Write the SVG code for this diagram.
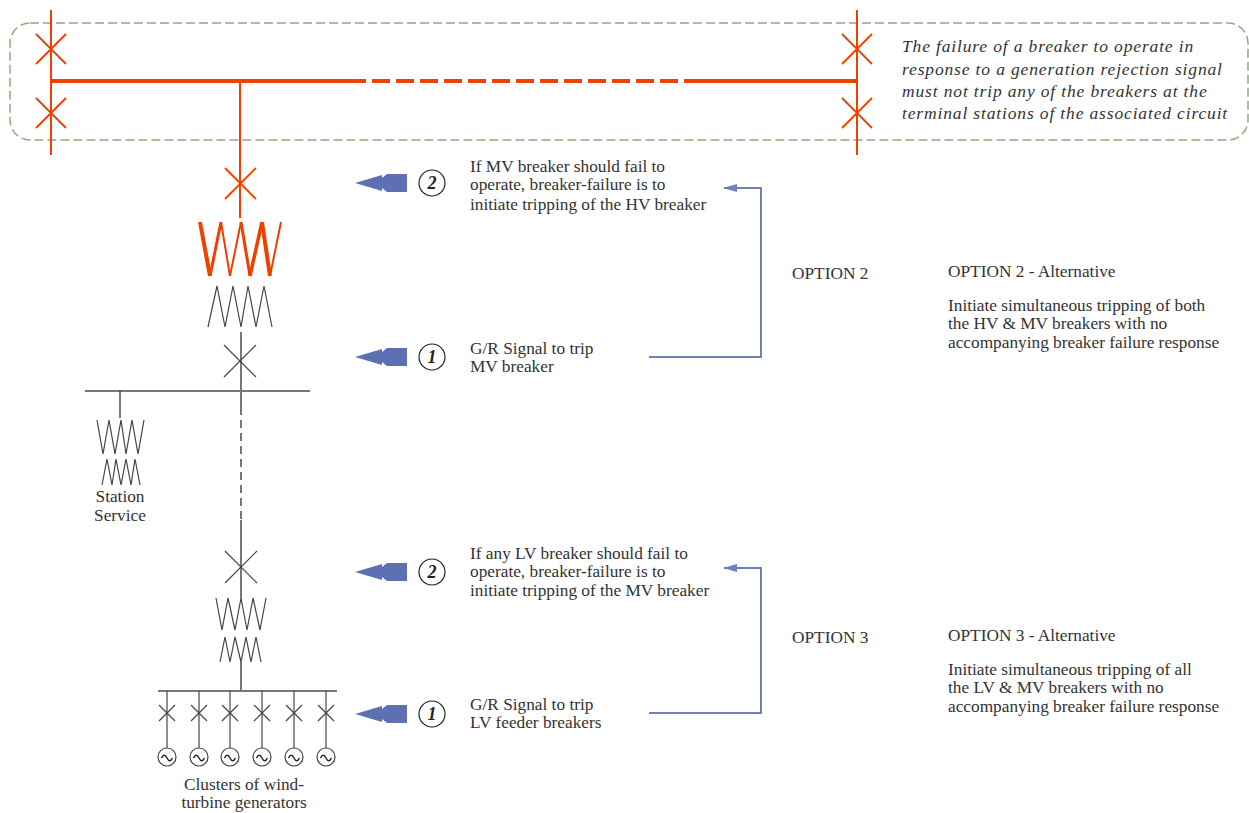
<svg xmlns="http://www.w3.org/2000/svg" width="1249" height="813" viewBox="0 0 1249 813">
<style>
.red{stroke:#ee4000;fill:none}
.blk{stroke:#444;fill:none;stroke-width:1.2}
.gry{stroke:#777;fill:none;stroke-width:2}
.t{font-family:'Liberation Serif','Times New Roman','DejaVu Serif',serif;font-size:17.3px;fill:#333}
.ti{font-family:'Liberation Serif','Times New Roman','DejaVu Serif',serif;font-size:17.5px;font-style:italic;fill:#333;letter-spacing:0.85px}
.num{font-family:'Liberation Serif','Times New Roman','DejaVu Serif',serif;font-size:18px;font-style:italic;font-weight:bold;fill:#222;text-anchor:middle}
.blue{stroke:#6f7fc0;stroke-width:2;fill:none}
</style>
<defs>
<path id="dbl" d="M0,0 L27,-8 L27,-5 L32,-9 L52,-9 L52,9 L32,9 L27,5 L27,8 Z" fill="#5f6fb3"/>
<marker id="ah" markerWidth="14" markerHeight="8" refX="13" refY="4" orient="auto" markerUnits="userSpaceOnUse">
<path d="M14,4 L0,0 L0,8 Z" fill="#6f7fc0"/>
</marker>
<g id="gen">
<line x1="0" y1="-22" x2="0" y2="35" stroke="#444" stroke-width="1.2"/>
<path d="M-8,-8 L8,8 M8,-8 L-8,8" stroke="#444" stroke-width="1.2"/>
<circle cx="0" cy="44" r="9" fill="#fff" stroke="#444" stroke-width="1.2"/>
<path d="M-5.5,45 q2.75,-5.5 5.5,0 t5.5,0" stroke="#222" stroke-width="1.5" fill="none"/>
</g>
</defs>

<g id="note-box">
<rect x="10" y="23" width="1238" height="117" rx="20" fill="none" stroke="#8faa7f" stroke-width="1.5" stroke-dasharray="9,4"/>
<text class="ti" x="902" y="52">The failure of a breaker to operate in</text>
<text class="ti" x="902" y="75">response to a generation rejection signal</text>
<text class="ti" x="902" y="97">must not trip any of the breakers at the</text>
<text class="ti" x="902" y="119">terminal stations of the associated circuit</text>
</g>

<g id="hv-network">
<line class="red" x1="51" y1="10" x2="51" y2="155" stroke-width="2"/>
<line class="red" x1="857" y1="10" x2="857" y2="155" stroke-width="2"/>
<path class="red" stroke-width="1.8" d="M36,34 L66,64 M66,34 L36,64 M36,98 L66,128 M66,98 L36,128"/>
<path class="red" stroke-width="1.8" d="M842,34 L872,64 M872,34 L842,64 M842,98 L872,128 M872,98 L842,128"/>
<line class="red" x1="51" y1="81" x2="366" y2="81" stroke-width="4"/>
<line class="red" x1="372" y1="81" x2="684" y2="81" stroke-width="4" stroke-dasharray="18,6"/>
<line class="red" x1="684" y1="81" x2="857" y2="81" stroke-width="4"/>
<line class="red" x1="240" y1="81" x2="240" y2="218" stroke-width="2"/>
<path class="red" stroke-width="1.8" d="M225,168 L256,199 M256,168 L225,199"/>
</g>

<g id="mv-transformer">
<line class="red" x1="200" y1="222" x2="210" y2="276" stroke-width="4"/>
<line class="red" x1="210" y1="276" x2="221" y2="222" stroke-width="3"/>
<line class="red" x1="221" y1="222" x2="230" y2="276" stroke-width="2"/>
<line class="red" x1="230" y1="276" x2="241" y2="222" stroke-width="2"/>
<line class="red" x1="241" y1="222" x2="250" y2="276" stroke-width="3"/>
<line class="red" x1="250" y1="276" x2="262" y2="222" stroke-width="3.5"/>
<line class="red" x1="262" y1="222" x2="270" y2="276" stroke-width="4"/>
<line class="red" x1="270" y1="276" x2="281" y2="222" stroke-width="2"/>
<polyline class="blk" points="208,327 217,286 225,327 233,286 241,327 248,286 256,327 264,286 272,327"/>
</g>

<g id="mv-breaker">
<line class="gry" x1="241" y1="332" x2="241" y2="391"/>
<path class="blk" d="M224,345 L256,377 M256,345 L224,377"/>
</g>

<g id="mv-bus">
<line class="gry" x1="85" y1="391" x2="310" y2="391"/>
<line class="gry" x1="241" y1="391" x2="241" y2="407"/>
<line class="gry" x1="241" y1="407" x2="241" y2="520" stroke-dasharray="8,5"/>
</g>

<g id="station-service">
<line x1="120" y1="391" x2="120" y2="418" stroke="#222" stroke-width="1.2"/>
<polyline class="blk" points="97,420 103,454 109,420 115,454 121,420 126,454 132,420 138,454 144,420"/>
<polyline class="blk" points="102,485 107,459 112,485 116,459 121,485 126,459 131,485 135,459 140,485"/>
<text class="t" x="120" y="502" text-anchor="middle">Station</text>
<text class="t" x="120" y="521" text-anchor="middle">Service</text>
</g>

<g id="lv-transformer">
<line class="gry" x1="241" y1="520" x2="241" y2="598"/>
<path class="blk" d="M225,551 L257,583 M257,551 L225,583"/>
<polyline class="blk" points="216,598 222,630 228,598 235,630 241,598 247,630 253,598 260,630 266,598"/>
<polyline class="blk" points="220,662 225,637 230,662 235,637 241,662 246,637 251,662 256,637 261,662"/>
<line class="gry" x1="241" y1="662" x2="241" y2="691"/>
</g>

<g id="lv-bus">
<line class="gry" x1="158" y1="691" x2="337" y2="691"/>
</g>

<g id="generators">
<use href="#gen" x="167" y="713"/>
<use href="#gen" x="199" y="713"/>
<use href="#gen" x="230" y="713"/>
<use href="#gen" x="262" y="713"/>
<use href="#gen" x="294" y="713"/>
<use href="#gen" x="326" y="713"/>
<text class="t" x="244" y="790" text-anchor="middle">Clusters of wind-</text>
<text class="t" x="244" y="808" text-anchor="middle">turbine generators</text>
</g>

<g id="step-mv-2">
<use href="#dbl" x="355" y="183"/>
<circle cx="432" cy="183" r="13" fill="none" stroke="#222" stroke-width="1.2"/>
<text class="num" x="432" y="189">2</text>
<text class="t" x="470" y="172">If MV breaker should fail to</text>
<text class="t" x="470" y="190">operate, breaker-failure is to</text>
<text class="t" x="470" y="210">initiate tripping of the HV breaker</text>
</g>

<g id="step-mv-1">
<use href="#dbl" x="355" y="357"/>
<circle cx="432" cy="357" r="13" fill="none" stroke="#222" stroke-width="1.2"/>
<text class="num" x="432" y="363">1</text>
<text class="t" x="470" y="354">G/R Signal to trip</text>
<text class="t" x="470" y="372">MV breaker</text>
</g>

<g id="step-lv-2">
<use href="#dbl" x="355" y="572"/>
<circle cx="432" cy="572" r="13" fill="none" stroke="#222" stroke-width="1.2"/>
<text class="num" x="432" y="578">2</text>
<text class="t" x="470" y="559">If any LV breaker should fail to</text>
<text class="t" x="470" y="577">operate, breaker-failure is to</text>
<text class="t" x="470" y="596">initiate tripping of the MV breaker</text>
</g>

<g id="step-lv-1">
<use href="#dbl" x="355" y="714"/>
<circle cx="432" cy="714" r="13" fill="none" stroke="#222" stroke-width="1.2"/>
<text class="num" x="432" y="720">1</text>
<text class="t" x="470" y="710">G/R Signal to trip</text>
<text class="t" x="470" y="728">LV feeder breakers</text>
</g>

<g id="connectors">
<polyline class="blue" points="649,357 761,357 761,188 724,188" marker-end="url(#ah)"/>
<polyline class="blue" points="649,713 761,713 761,568 724,568" marker-end="url(#ah)"/>
</g>

<g id="option-2">
<text class="t" x="792" y="279">OPTION 2</text>
<text class="t" x="948" y="277">OPTION 2 - Alternative</text>
<text class="t" x="948" y="311">Initiate simultaneous tripping of both</text>
<text class="t" x="948" y="329">the HV &amp; MV breakers with no</text>
<text class="t" x="948" y="348">accompanying breaker failure response</text>
</g>

<g id="option-3">
<text class="t" x="792" y="643">OPTION 3</text>
<text class="t" x="948" y="641">OPTION 3 - Alternative</text>
<text class="t" x="948" y="675">Initiate simultaneous tripping of all</text>
<text class="t" x="948" y="693">the LV &amp; MV breakers with no</text>
<text class="t" x="948" y="712">accompanying breaker failure response</text>
</g>
</svg>
